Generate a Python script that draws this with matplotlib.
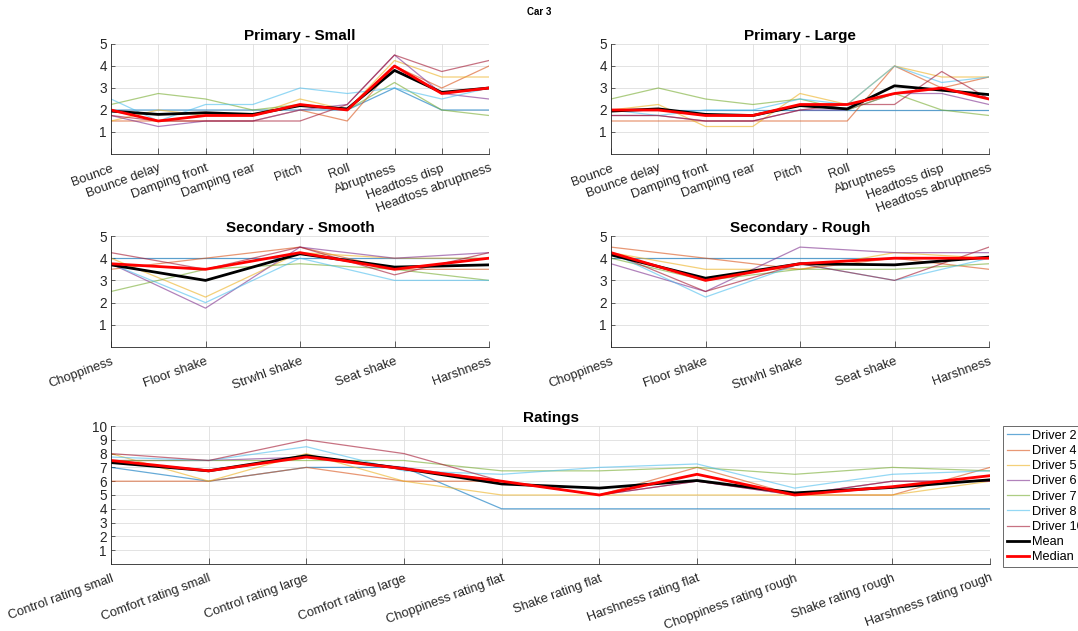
"""Driver ratings for Car 3 - per-driver scores with mean and median overlay."""

import matplotlib
matplotlib.use("Agg")
import matplotlib.pyplot as plt

plt.rcParams["font.family"] = ["Liberation Sans", "DejaVu Sans"]

DRIVERS = ["Driver 2", "Driver 4", "Driver 5", "Driver 6", "Driver 7", "Driver 8", "Driver 10"]
DRIVER_COLORS = ["#0072BD", "#D95319", "#EDB120", "#7E2F8E", "#77AC30", "#4DBEEE", "#A2142F"]

PRIMARY_CATS = ["Bounce", "Bounce delay", "Damping front", "Damping rear", "Pitch", "Roll",
                "Abruptness", "Headtoss disp", "Headtoss abruptness"]
SECONDARY_CATS = ["Choppiness", "Floor shake", "Strwhl shake", "Seat shake", "Harshness"]
RATING_CATS = ["Control rating small", "Comfort rating small", "Control rating large",
               "Comfort rating large", "Choppiness rating flat", "Shake rating flat",
               "Harshness rating flat", "Choppiness rating rough", "Shake rating rough",
               "Harshness rating rough"]

# Primary - Small
primary_small = [
    [2, 2, 2, 2, 2, 2, 3, 2, 2],
    [1.5, 1.5, 1.5, 1.5, 2, 1.5, 4, 3, 4],
    [1.5, 2, 1.75, 1.75, 2.5, 2, 4.25, 3.5, 3.5],
    [1.75, 1.25, 1.5, 1.5, 2, 2.25, 4.5, 2.75, 2.5],
    [2.25, 2.75, 2.5, 2, 2.25, 2, 3.25, 2, 1.75],
    [2.5, 1.5, 2.25, 2.25, 3, 2.75, 3, 2.5, 3],
    [1.75, 1.5, 1.5, 1.5, 1.5, 2.25, 4.5, 3.75, 4.25],
]
primary_small_mean = [1.95, 1.8, 1.875, 1.8, 2.2, 2.05, 3.8, 2.8, 3.0]
primary_small_median = [2.0, 1.5, 1.75, 1.75, 2.25, 2.0, 4.0, 2.75, 3.0]

# Primary - Large
primary_large = [
    [2, 2, 2, 2, 2, 2, 2, 2, 2],
    [1.5, 1.5, 1.5, 1.5, 1.5, 1.5, 4, 3, 3.5],
    [2, 2.25, 1.25, 1.25, 2.75, 2.25, 4, 3.5, 3.5],
    [1.75, 1.75, 1.5, 1.5, 2, 2, 2.75, 2.75, 2.25],
    [2.5, 3, 2.5, 2.25, 2.5, 2, 2.75, 2, 1.75],
    [2, 1.75, 2, 2, 2.5, 2.25, 4, 3.25, 3.5],
    [1.75, 1.75, 1.5, 1.5, 2, 2.25, 2.25, 3.75, 2.5],
]
primary_large_mean = [1.95, 2.05, 1.8, 1.75, 2.2, 2.05, 3.1, 2.9, 2.7]
primary_large_median = [2.0, 2.0, 1.75, 1.75, 2.25, 2.25, 2.75, 3.0, 2.5]

# Secondary - Smooth
secondary_smooth = [
    [4, 4, 4, 4, 4],
    [3.5, 4, 4.5, 3.5, 3.5],
    [4, 2.25, 4.25, 4, 4],
    [3.75, 1.75, 4.5, 4, 4.25],
    [2.5, 3.5, 3.75, 3.5, 3],
    [3.75, 2, 4, 3, 3],
    [4.25, 3.5, 4.5, 3.25, 4.25],
]
secondary_smooth_mean = [3.7, 3.0, 4.2, 3.6, 3.7]
secondary_smooth_median = [3.75, 3.5, 4.25, 3.5, 4.0]

# Secondary - Rough
secondary_rough = [
    [4, 4, 4, 4, 4],
    [4.5, 4, 3.5, 4, 3.5],
    [4.25, 3.5, 3.5, 4.25, 4],
    [3.75, 2.5, 4.5, 4.25, 4.25],
    [4, 3, 3.5, 3.5, 3.75],
    [4.25, 2.25, 3.75, 3, 4],
    [4.25, 2.5, 3.75, 3, 4.5],
]
secondary_rough_mean = [4.15, 3.1, 3.75, 3.7, 4.05]
secondary_rough_median = [4.25, 3.0, 3.75, 4.0, 4.0]

# Ratings
ratings = [
    [7, 6, 7, 7, 4, 4, 4, 4, 4, 4],
    [6, 6, 7, 6, 6, 5, 7, 5, 5, 7],
    [8, 6, 8, 6, 5, 5, 5, 5, 5, 6],
    [7.5, 7.5, 7.75, 7, 6, 5, 6, 5, 6, 6],
    [7.5, 7.5, 7.5, 7.5, 6.75, 6.75, 7, 6.5, 7, 6.75],
    [7.75, 7.5, 8.5, 6.75, 6.5, 7, 7.25, 5.5, 6.5, 6.75],
    [8, 7.5, 9, 8, 6, 5, 6, 5, 6, 6],
]
ratings_mean = [7.35, 6.75, 7.85, 6.9, 5.8, 5.5, 6.05, 5.15, 5.55, 6.1]
ratings_median = [7.5, 6.75, 7.75, 6.9, 6.0, 5.0, 6.5, 5.0, 5.6, 6.4]

AXIS_COLOR = "#262626"
TICK_FONT = 9.3


def style_axes(ax, cats, ymax):
    x = range(1, len(cats) + 1)
    ax.set_xlim(1, len(cats))
    ax.set_ylim(0, ymax)
    ax.set_xticks(list(x))
    ax.set_xticklabels(cats, rotation=20, ha="right", rotation_mode="anchor",
                       fontsize=TICK_FONT, color=AXIS_COLOR)
    ax.set_yticks(range(1, ymax + 1))
    ax.tick_params(axis="y", labelsize=TICK_FONT + 0.5, labelcolor=AXIS_COLOR, direction="in",
                   length=3, width=0.5, color=AXIS_COLOR, pad=3)
    ax.tick_params(axis="x", direction="in", length=4, width=0.5, color=AXIS_COLOR, pad=6)
    ax.grid(True, color="#dedede", linewidth=0.6)
    ax.set_axisbelow(True)
    for side in ("top", "right"):
        ax.spines[side].set_visible(False)
    for side in ("left", "bottom"):
        ax.spines[side].set_color(AXIS_COLOR)
        ax.spines[side].set_linewidth(0.6)


def plot_panel(ax, title, cats, drivers, mean, median, ymax):
    x = list(range(1, len(cats) + 1))
    for vals, name, color in zip(drivers, DRIVERS, DRIVER_COLORS):
        ax.plot(x, vals, color=color, alpha=0.6, linewidth=0.9, label=name)
    ax.plot(x, mean, color="black", linewidth=2.0, label="Mean")
    ax.plot(x, median, color="red", linewidth=2.0, label="Median")
    ax.set_title(title, fontsize=11, fontweight="bold", pad=3)
    style_axes(ax, cats, ymax)


def main():
    W, H = 1078, 631
    fig = plt.figure(figsize=(W / 100, H / 100), dpi=100)

    def rect(x0, y0, x1, y1):
        return [x0 / W, 1 - y1 / H, (x1 - x0) / W, (y1 - y0) / H]

    ax_ps = fig.add_axes(rect(111, 44, 489, 154))
    ax_pl = fig.add_axes(rect(611, 44, 989, 154))
    ax_ss = fig.add_axes(rect(111, 236, 489, 347))
    ax_sr = fig.add_axes(rect(611, 236, 989, 347))
    ax_r = fig.add_axes(rect(111, 426, 990, 564))

    plot_panel(ax_ps, "Primary - Small", PRIMARY_CATS, primary_small,
               primary_small_mean, primary_small_median, 5)
    plot_panel(ax_pl, "Primary - Large", PRIMARY_CATS, primary_large,
               primary_large_mean, primary_large_median, 5)
    plot_panel(ax_ss, "Secondary - Smooth", SECONDARY_CATS, secondary_smooth,
               secondary_smooth_mean, secondary_smooth_median, 5)
    plot_panel(ax_sr, "Secondary - Rough", SECONDARY_CATS, secondary_rough,
               secondary_rough_mean, secondary_rough_median, 5)
    plot_panel(ax_r, "Ratings", RATING_CATS, ratings, ratings_mean, ratings_median, 10)

    fig.text(0.5, 1 - 12 / H, "Car 3", ha="center", va="center", fontsize=7, fontweight="bold")

    handles, labels = ax_r.get_legend_handles_labels()
    leg = fig.legend(handles, labels, loc="upper left",
                     bbox_to_anchor=(1003 / W, 1 - 426 / H), fontsize=9.2,
                     frameon=True, fancybox=False, edgecolor=AXIS_COLOR,
                     handlelength=1.75, handletextpad=0.25, borderpad=0.3,
                     labelspacing=0.25, borderaxespad=0)
    leg.get_frame().set_linewidth(0.6)

    fig.savefig("out.png", dpi=100)


if __name__ == "__main__":
    main()
